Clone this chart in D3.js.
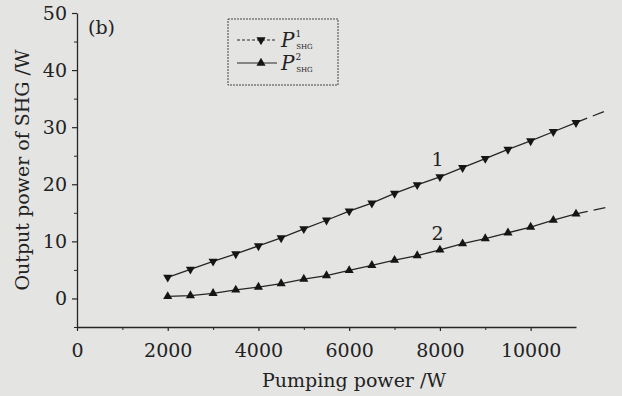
<!DOCTYPE html>
<html>
<head>
<meta charset="utf-8">
<script src="https://cdn.jsdelivr.net/npm/d3@7"></script>
<style>
  html, body { margin: 0; padding: 0; background: #e4e4e2; }
  svg { display: block; }
  text { font-family: 'DejaVu Serif', 'Liberation Serif', serif; fill: #222; }
</style>
</head>
<body>
<div id="chart"></div>
<script>
// Pumping power (W)
const pumpPower = [2000, 2500, 3000, 3500, 4000, 4500, 5000, 5500, 6000, 6500,
                   7000, 7500, 8000, 8500, 9000, 9500, 10000, 10500, 11000];
// Output SHG power, curve 1 (W)
const shg1 = [3.7, 5.1, 6.5, 7.8, 9.2, 10.6, 12.2, 13.7, 15.3, 16.7,
              18.4, 19.9, 21.3, 22.9, 24.5, 26.1, 27.6, 29.2, 30.8];
// Output SHG power, curve 2 (W)
const shg2 = [0.35, 0.5, 0.9, 1.5, 2.0, 2.6, 3.4, 4.0, 4.9, 5.8,
              6.7, 7.5, 8.5, 9.6, 10.5, 11.5, 12.5, 13.7, 14.8];
// dashed continuation past the last point
const extPower = [11000, 11700];
const ext1 = [30.8, 33.0];
const ext2 = [14.8, 16.0];

const xTicks = [0, 2000, 4000, 6000, 8000, 10000];
const xMinor = [1000, 3000, 5000, 7000, 9000];
const yTicks = [0, 10, 20, 30, 40, 50];
const yMinor = [-5, 5, 15, 25, 35, 45];

const curveLabels = [{ text: '1', x: 7950, y: 23.2 }, { text: '2', x: 7950, y: 10.3 }];

const W = 622, H = 396;
const svg = d3.select('#chart').append('svg')
    .attr('width', W).attr('height', H);

svg.append('rect').attr('width', W).attr('height', H).attr('fill', '#e4e4e2');

const x = d3.scaleLinear().domain([0, 11000]).range([77, 576]);
const y = d3.scaleLinear().domain([-5, 50]).range([327, 13]);

const ink = '#262626';
const fs = '19px';

// Y axis
let yNode = svg.append('g')
    .attr('transform', 'translate(' + x(0) + ',0)')
    .call(d3.axisLeft(y).tickValues(yTicks).tickSize(5).tickSizeOuter(0).tickPadding(5).tickFormat(d3.format('d')));
yNode.select('path').attr('stroke', ink).attr('stroke-width', 1.3);
yNode.selectAll('line').attr('stroke', ink).attr('stroke-width', 1.2);
yNode.selectAll('text').style('font-size', fs).attr('fill', ink).attr('font-family', null);
svg.append('g')
    .attr('transform', 'translate(' + x(0) + ',0)')
    .call(d3.axisLeft(y).tickValues(yMinor).tickSize(3).tickSizeOuter(0).tickFormat(''))
    .call(g => g.select('path').remove())
    .selectAll('line').attr('stroke', ink);

// X axis
let xNode = svg.append('g')
    .attr('transform', 'translate(0,' + y(-5) + ')')
    .call(d3.axisBottom(x).tickValues(xTicks).tickSize(4).tickSizeOuter(0).tickPadding(13).tickFormat(d3.format('d')));
xNode.select('path').attr('stroke', ink).attr('stroke-width', 1.3);
xNode.selectAll('line').attr('stroke', ink).attr('stroke-width', 1.2);
xNode.selectAll('text').style('font-size', fs).attr('fill', ink).attr('font-family', null);
svg.append('g')
    .attr('transform', 'translate(0,' + y(-5) + ')')
    .call(d3.axisBottom(x).tickValues(xMinor).tickSize(3).tickSizeOuter(0).tickFormat(''))
    .call(g => g.select('path').remove())
    .selectAll('line').attr('stroke', ink);

// Axis titles
svg.append('text')
    .attr('x', 354).attr('y', 387)
    .attr('text-anchor', 'middle')
    .style('font-size', fs)
    .text('Pumping power /W');

svg.append('text')
    .attr('transform', 'translate(29,170) rotate(-90)')
    .attr('text-anchor', 'middle')
    .style('font-size', fs)
    .text('Output power of SHG /W');

svg.append('text')
    .attr('x', 88).attr('y', 34)
    .style('font-size', fs)
    .text('(b)');

// Lines
const line = d3.line().x(d => x(d[0])).y(d => y(d[1]));
const series = [
  { vals: shg1, ext: ext1, symbol: 'down' },
  { vals: shg2, ext: ext2, symbol: 'up' }
];

series.forEach(s => {
  svg.append('path')
      .attr('d', line(pumpPower.map((p, i) => [p, s.vals[i]])))
      .attr('fill', 'none').attr('stroke', ink).attr('stroke-width', 1.3);
  svg.append('path')
      .attr('d', line(extPower.map((p, i) => [p, s.ext[i]])))
      .attr('fill', 'none').attr('stroke', ink).attr('stroke-width', 1.3)
      .attr('stroke-dasharray', '12,6');
  svg.selectAll(null)
      .data(pumpPower.map((p, i) => [p, s.vals[i]]))
      .enter().append('path')
      .attr('d', d3.symbol(d3.symbolTriangle).size(36))
      .attr('transform', d => 'translate(' + x(d[0]) + ',' + y(d[1]) + ')' + (s.symbol === 'down' ? ' rotate(180)' : ''))
      .attr('fill', '#151515');
});

svg.selectAll(null)
    .data(curveLabels)
    .enter().append('text')
    .attr('x', d => x(d.x)).attr('y', d => y(d.y))
    .attr('text-anchor', 'middle')
    .style('font-size', fs)
    .text(d => d.text);

// Legend
const legend = svg.append('g');
legend.append('rect')
    .attr('x', 228).attr('y', 19).attr('width', 110).attr('height', 66)
    .attr('fill', 'none').attr('stroke', '#444').attr('stroke-width', 1)
    .attr('stroke-dasharray', '2,1');

const legendItems = [
  { sup: '1', symbol: 'down', dash: '3,2', cy: 40 },
  { sup: '2', symbol: 'up', dash: null, cy: 63 }
];
legendItems.forEach(it => {
  legend.append('line')
      .attr('x1', 237).attr('x2', 277).attr('y1', it.cy).attr('y2', it.cy)
      .attr('stroke', ink).attr('stroke-width', 1.2)
      .attr('stroke-dasharray', it.dash);
  legend.append('path')
      .attr('d', d3.symbol(d3.symbolTriangle).size(36))
      .attr('transform', 'translate(261,' + it.cy + ')' + (it.symbol === 'down' ? ' rotate(180)' : ''))
      .attr('fill', '#151515');
  const t = legend.append('text')
      .attr('x', 281).attr('y', it.cy + 7)
      .style('font-size', '20px');
  t.append('tspan').attr('font-style', 'italic').text('P');
  t.append('tspan').attr('dy', -10).attr('dx', 1).style('font-size', '9px').text(it.sup);
  t.append('tspan').attr('dy', 12).attr('dx', -5).style('font-size', '7px').text('SHG');
});
</script>
</body>
</html>
